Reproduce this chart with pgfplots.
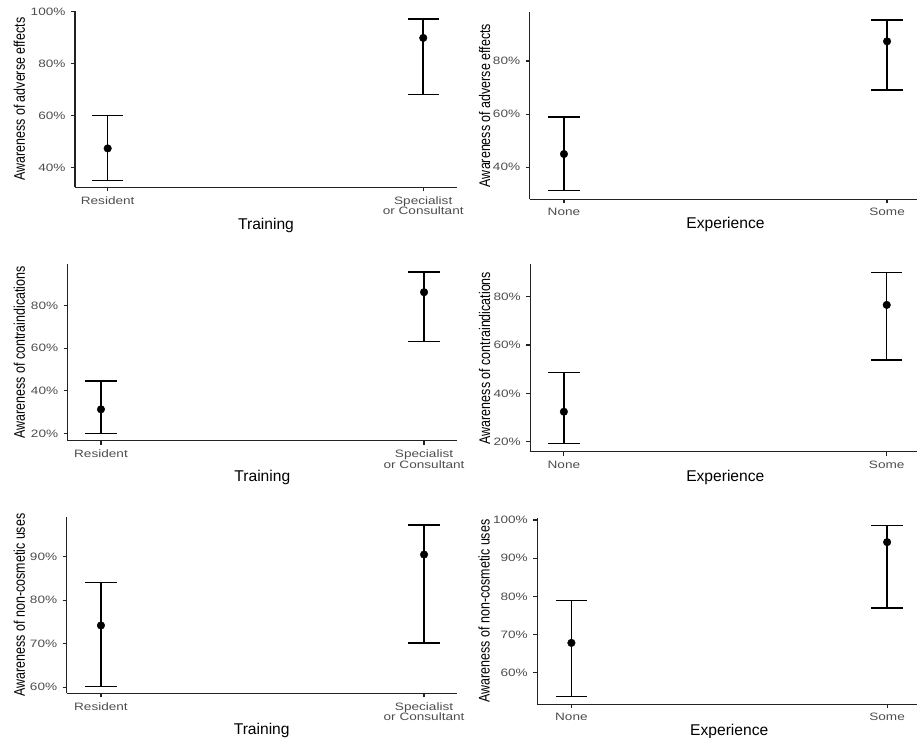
\documentclass[border=0pt]{standalone}
\usepackage{fontspec}
\setmainfont{Liberation Sans}
\newfontfamily\tickfamily[FakeStretch=1.27]{Liberation Sans}
\newfontfamily\ytitlefamily[FakeStretch=0.81]{Liberation Sans}
\usepackage{pgfplots}
\pgfplotsset{compat=1.18}
\usepackage{pgfplotstable}
\definecolor{grey30}{HTML}{4D4D4D}
\definecolor{axcol}{HTML}{222222}

\pgfplotstableread{
x y lo hi
0 47.3 35.0 60.0
1 89.9 68.1 97.2
}\tA
\pgfplotstableread{
x y lo hi
0 45.0 31.2 58.9
1 87.4 69.1 95.5
}\tB
\pgfplotstableread{
x y lo hi
0 31.3 20.0 44.7
1 86.3 63.1 95.7
}\tC
\pgfplotstableread{
x y lo hi
0 32.4 19.3 48.7
1 76.6 53.8 90.1
}\tD
\pgfplotstableread{
x y lo hi
0 74.2 60.2 84.1
1 90.5 70.2 97.3
}\tE
\pgfplotstableread{
x y lo hi
0 67.8 53.8 78.9
1 94.2 77.0 98.6
}\tF

\pgfplotsset{
  myax/.style={
    scale only axis,
    axis x line*=bottom, axis y line*=left,
    axis line style={axcol, line width=1.4pt},
    tick align=outside,
    major tick length=4pt,
    tick style={axcol, line width=1.2pt},
    xtick={0,1},
    yticklabel={\tickfamily\fontsize{10.7}{11}\selectfont\pgfmathparse{int(round(\tick))}\pgfmathresult\%},
    yticklabel style={grey30, xshift=-2pt},
    xticklabel style={grey30, align=center, font=\tickfamily\fontsize{10.7}{10.6}\selectfont, anchor=north, yshift=-1.5pt},
    ylabel style={anchor=center, font=\ytitlefamily\fontsize{15.4}{16}\selectfont, black},
    xlabel style={anchor=base, font=\fontsize{15.6}{16}\selectfont, black},
    clip=false,
  },
  ebar/.style={only marks, mark=*, mark size=3.8pt, black,
    error bars/.cd, y dir=both, y explicit,
    error bar style={line width=1.5pt, black},
    error mark options={rotate=90, mark size=15.7pt, line width=1.5pt, black}},
}

\newcommand{\ebplot}[1]{\addplot[ebar] table[x=x, y=y, y error plus expr=\thisrow{hi}-\thisrow{y}, y error minus expr=\thisrow{y}-\thisrow{lo}] {#1};}

\begin{document}
\begin{tikzpicture}
\useasboundingbox (0,0) rectangle (917pt,-737pt);

% Panel 1
\begin{axis}[myax, at={(75pt,-187.3pt)}, anchor=south west,
  width=382pt, height=176.1pt,
  xmin=-0.1036, xmax=1.107, ymin=32.3, ymax=100.2,
  ytick={40,60,80,100},
  xticklabels={Resident,{Specialist\\or Consultant}},
  xlabel={Training}, xlabel style={at={(axis description cs:0.5,-0.2386)}},
  ylabel={Awareness of adverse effects}, ylabel style={at={(axis description cs:-0.1458,0.5)}}]
\ebplot{\tA}
\end{axis}

% Panel 2
\begin{axis}[myax, at={(529.7pt,-199.3pt)}, anchor=south west,
  width=391.6pt, height=187.6pt,
  xmin=-0.106, xmax=1.106, ymin=27.96, ymax=98.55,
  ytick={40,60,80},
  xticklabels={None,Some},
  xlabel={Experience}, xlabel style={at={(axis description cs:0.5,-0.1567)}},
  ylabel={Awareness of adverse effects}, ylabel style={at={(axis description cs:-0.1149,0.5)}}]
\ebplot{\tB}
\end{axis}

% Panel 3
\begin{axis}[myax, at={(67.7pt,-440.7pt)}, anchor=south west,
  width=389.3pt, height=176.4pt,
  xmin=-0.103, xmax=1.102, ymin=16.55, ymax=99.4,
  ytick={20,40,60,80},
  xticklabels={Resident,{Specialist\\or Consultant}},
  xlabel={Training}, xlabel style={at={(axis description cs:0.5,-0.2324)}},
  ylabel={Awareness of contraindications}, ylabel style={at={(axis description cs:-0.1243,0.5)}}]
\ebplot{\tC}
\end{axis}

% Panel 4
\begin{axis}[myax, at={(530.3pt,-451.7pt)}, anchor=south west,
  width=390pt, height=187.4pt,
  xmin=-0.104, xmax=1.104, ymin=15.86, ymax=93.4,
  ytick={20,40,60,80},
  xticklabels={None,Some},
  xlabel={Experience}, xlabel style={at={(axis description cs:0.5,-0.1601)}},
  ylabel={Awareness of contraindications}, ylabel style={at={(axis description cs:-0.1169,0.5)}}]
\ebplot{\tD}
\end{axis}

% Panel 5
\begin{axis}[myax, at={(66.7pt,-693.3pt)}, anchor=south west,
  width=390pt, height=176.6pt,
  xmin=-0.106, xmax=1.101, ymin=58.6, ymax=99.2,
  ytick={60,70,80,90},
  xticklabels={Resident,{Specialist\\or Consultant}},
  xlabel={Training}, xlabel style={at={(axis description cs:0.5,-0.2322)}},
  ylabel={Awareness of non-cosmetic uses}, ylabel style={at={(axis description cs:-0.1215,0.5)}}]
\ebplot{\tE}
\end{axis}

% Panel 6
\begin{axis}[myax, at={(537.3pt,-704.3pt)}, anchor=south west,
  width=383.9pt, height=186.6pt,
  xmin=-0.108, xmax=1.108, ymin=51.7, ymax=100.6,
  ytick={60,70,80,90,100},
  xticklabels={None,Some},
  xlabel={Experience}, xlabel style={at={(axis description cs:0.5,-0.1645)}},
  ylabel={Awareness of non-cosmetic uses}, ylabel style={at={(axis description cs:-0.1388,0.5)}}]
\ebplot{\tF}
\end{axis}
\end{tikzpicture}
\end{document}
